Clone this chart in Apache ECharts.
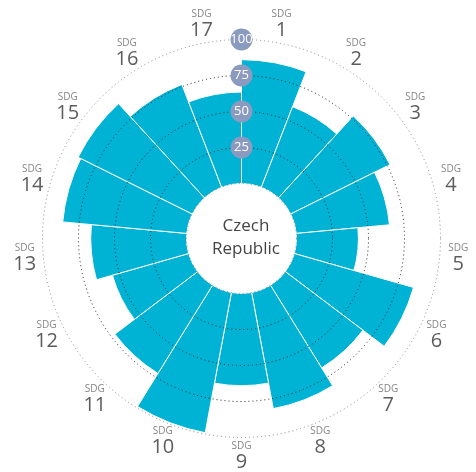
<!DOCTYPE html>
<html>
<head>
<meta charset="utf-8">
<script src="https://cdn.jsdelivr.net/npm/echarts@6/dist/echarts.min.js"></script>
<style>
  html, body { margin: 0; padding: 0; background: #fff; }
  #chart { width: 476px; height: 472px; }
</style>
</head>
<body>
<div id="chart"></div>
<script>
// SDG goal numbers, clockwise from 12 o'clock
const goals = [1, 2, 3, 4, 5, 6, 7, 8, 9, 10, 11, 12, 13, 14, 15, 16, 17];
// Goal scores (0-100)
const scores = [86, 60, 77, 65, 43, 86, 67.5, 82, 64, 99, 72, 55, 66.5, 86.5, 88.5, 76.5, 63.5];
// Radial scale ticks
const scaleTicks = [0, 25, 50, 75, 100];
const countryName = 'Czech\nRepublic';

const FONT = '"Open Sans", "Noto Sans", sans-serif';
// Goal names sit on a ring just outside the 100 circle (in score units)
const LABEL_RING = 113;

const chart = echarts.init(document.getElementById('chart'));
chart.setOption({
  animation: false,
  backgroundColor: '#ffffff',
  title: {
    text: countryName,
    left: 241,
    top: 210,
    textAlign: 'center',
    textStyle: { fontFamily: FONT, fontSize: 17, fontWeight: 'normal', color: '#444', lineHeight: 23 }
  },
  polar: {
    center: [241.5, 238.5],
    radius: [55, 199]
  },
  angleAxis: {
    type: 'category',
    data: goals,
    startAngle: 90,
    clockwise: true,
    boundaryGap: true,
    z: 10,
    axisLine: { show: true, lineStyle: { color: '#8a8a8a', type: [1, 3], width: 1 } },
    axisTick: { show: false },
    splitLine: { show: false },
    axisLabel: { show: false }
  },
  radiusAxis: {
    type: 'value',
    min: scaleTicks[0],
    max: scaleTicks[scaleTicks.length - 1],
    interval: 25,
    z: 10,
    axisLine: { show: false },
    axisTick: { show: false },
    splitLine: {
      show: true,
      lineStyle: { color: ['rgba(0,0,0,0)', '#222', '#222', '#222', 'rgba(0,0,0,0)'], type: [1, 3], width: 1 }
    },
    axisLabel: {
      showMinLabel: false,
      margin: 0,
      align: 'center',
      verticalAlign: 'middle',
      color: '#fff',
      fontFamily: FONT,
      fontSize: 13,
      backgroundColor: '#8b9bbf',
      borderRadius: 11,
      width: 22,
      height: 22,
      lineHeight: 22,
      padding: 0
    }
  },
  series: [{
    type: 'bar',
    coordinateSystem: 'polar',
    data: scores,
    barCategoryGap: '0%',
    itemStyle: { color: '#00b2d3', borderColor: '#ffffff', borderWidth: 1 },
    z: 2
  }, {
    // goal captions, centred on each sector's mid-angle
    type: 'scatter',
    coordinateSystem: 'polar',
    clip: false,
    symbolSize: 0,
    silent: true,
    data: goals.map((g, i) => [LABEL_RING, i]),
    label: {
      show: true,
      position: 'inside',
      align: 'center',
      verticalAlign: 'middle',
      formatter: p => '{a|SDG}\n{b|' + goals[p.dataIndex] + '}',
      rich: {
        a: { fontFamily: FONT, fontSize: 10, color: '#666', lineHeight: 12, align: 'center' },
        b: { fontFamily: FONT, fontSize: 20, color: '#333', lineHeight: 20, align: 'center' }
      }
    },
    z: 5
  }]
});
</script>
</body>
</html>
